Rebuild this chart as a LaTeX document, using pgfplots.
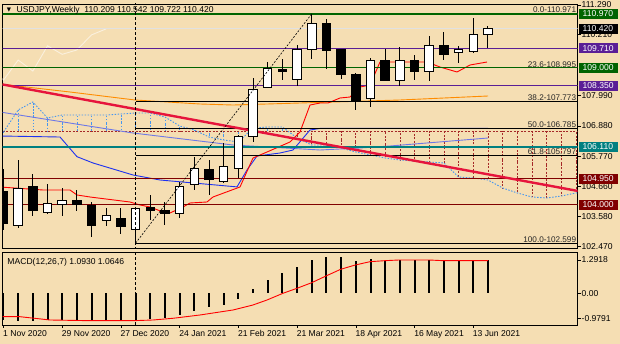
\documentclass[border=0pt]{standalone}
\usepackage{pgfplots}
\pgfplotsset{compat=1.18}
\usepackage{pgfplotstable}
\usepackage{fontspec}
\setmainfont{Liberation Sans}
\newfontfamily\symfont{DejaVu Sans}

\definecolor{bg}{RGB}{245,222,179}
\definecolor{dgreen}{RGB}{0,100,0}
\definecolor{mtpurple}{RGB}{90,30,150}
\definecolor{mtteal}{RGB}{0,128,128}
\definecolor{mtmaroon}{RGB}{128,0,0}
\definecolor{crimsonx}{RGB}{230,20,60}
\definecolor{dorange}{RGB}{255,140,0}
\definecolor{kijunc}{RGB}{30,50,240}
\definecolor{slatec}{RGB}{110,120,230}
\definecolor{senkouc}{RGB}{70,150,240}
\definecolor{hatchred}{RGB}{165,40,40}
\definecolor{pricegray}{RGB}{225,225,225}
\definecolor{chikouc}{RGB}{250,240,222}

\newcommand{\lab}{\fontsize{8.6}{10}\selectfont}
\newcommand{\fiblab}{\fontsize{8.2}{9}\selectfont}

\pgfplotstableread{
i o h l c
1 103.24 105.63 103.15 104.60
3 103.72 104.76 103.66 104.03
4 104.02 104.62 103.59 104.14
7 103.44 103.87 103.22 103.61
9 103.08 103.90 102.599 103.86
12 103.69 104.84 103.50 104.66
13 104.75 105.75 104.54 105.33
15 104.84 106.24 104.80 105.39
16 105.33 106.55 104.97 106.48
17 106.48 108.61 106.30 108.21
18 108.29 109.22 108.25 108.98
20 108.59 109.83 108.33 109.65
21 109.68 110.971 109.31 110.62
25 107.86 109.34 107.58 109.28
27 108.55 109.77 108.33 109.28
29 108.86 110.17 108.52 109.80
31 109.55 109.80 109.16 109.65
32 109.59 110.80 109.55 110.20
33 110.209 110.542 109.722 110.420
}\whitec

\pgfplotstableread{
i o h l c
0 104.47 105.30 103.08 103.33
2 104.66 105.11 103.59 103.78
5 104.14 104.54 103.77 104.02
6 103.97 104.11 102.81 103.25
8 103.49 103.87 102.93 103.22
10 103.90 104.36 103.44 103.80
11 103.80 104.11 103.26 103.69
14 105.30 105.63 104.36 104.93
19 108.95 109.31 108.55 108.86
22 110.60 110.77 108.95 109.62
23 109.68 109.70 108.58 108.74
24 108.76 108.82 107.46 107.82
26 109.26 109.67 108.50 108.55
28 109.28 109.46 108.55 108.88
30 109.80 110.29 109.28 109.49
}\blackc

\pgfplotstableread{
i a b
-1 106.691 106.691
0 106.655 106.691
1 107.460 106.691
2 107.750 106.691
3 107.166 106.691
4 107.275 106.691
5 107.275 106.691
6 107.275 106.691
7 107.275 106.691
8 107.312 106.691
9 107.348 106.691
10 107.348 106.691
11 107.202 106.691
12 106.874 106.691
13 106.728 106.691
14 106.472 106.691
15 106.363 106.691
16 106.290 106.691
17 106.801 106.691
18 106.837 106.691
19 106.837 106.691
20 106.436 106.691
21 106.180 106.691
22 106.180 106.691
23 106.071 106.691
24 105.925 106.691
25 105.815 106.691
26 105.706 106.691
27 105.633 106.691
28 105.597 106.691
29 105.560 106.691
30 105.524 106.691
31 105.013 106.691
32 104.976 106.691
33 104.903 106.691
34 104.611 106.691
35 104.429 106.691
36 104.283 106.691
37 104.246 106.691
38 104.319 106.691
39 104.429 106.691
40 104.500 106.691
}\senkou

\pgfplotstableread{
i p
-0.238 104.648
2.691 104.538
4.530 104.538
5.007 104.356
5.892 104.283
8.617 104.100
9.298 103.991
9.980 103.918
10.865 103.735
11.342 103.699
12.228 103.918
12.705 104.064
13.862 104.100
14.271 104.283
16.110 104.648
16.996 105.706
17.950 105.925
19.516 106.290
20.197 106.655
20.879 107.640
21.560 107.713
22.105 107.713
22.922 107.896
23.604 107.932
24.285 108.297
24.966 108.370
25.647 109.210
28.849 109.210
29.734 109.027
30.892 108.845
31.778 109.100
32.936 109.210
}\tenkan

\pgfplotstableread{
i p
-0.238 106.509
3.849 106.472
5.007 105.754
6.097 105.524
8.822 105.086
10.661 104.903
15.906 104.651
16.587 105.268
17.269 105.779
18.835 105.888
19.721 105.998
20.879 106.728
21.560 106.785
33.004 106.785
}\kijun

\pgfplotstableread{
i p
-0.238 107.385
8.822 106.618
15.634 106.180
21.560 105.998
24.285 106.071
26.328 106.144
33.004 106.436
}\slate

\pgfplotstableread{
i p
-0.238 108.407
4.530 108.115
8.958 107.823
13.386 107.677
15.634 107.640
20.197 107.713
27.010 107.823
33.004 107.969
}\orangema

\pgfplotstableread{
i p
-1 109.28
0 108.55
1 109.28
2 108.88
3 109.80
4 109.49
5 109.65
6 110.20
7 110.42
}\chikou

\pgfplotstableread{
i v
0 -1.03
1 -1.07
2 -1.07
3 -1.03
4 -1.05
5 -1.05
6 -1.08
7 -1.05
8 -1.08
9 -1.05
10 -0.99
11 -0.94
12 -0.83
13 -0.67
14 -0.54
15 -0.44
16 -0.22
17 0.16
18 0.52
19 0.78
20 1.03
21 1.29
22 1.40
23 1.40
24 1.26
25 1.32
26 1.26
27 1.29
28 1.29
29 1.29
30 1.26
31 1.26
32 1.26
33 1.29
}\macd

\pgfplotstableread{
i v
-0.238 -0.907
1.124 -0.907
3.168 -1.035
5.892 -1.062
8.822 -1.062
10.184 -1.035
11.546 -0.969
13.386 -0.841
15.634 -0.647
16.996 -0.453
17.950 -0.260
19.039 0.000
19.993 0.194
20.995 0.411
21.969 0.671
22.970 0.930
23.965 1.097
24.966 1.225
25.967 1.264
26.962 1.291
28.965 1.291
29.959 1.264
33.004 1.264
}\signal

\pgfplotsset{
  mtaxis/.style={scale only axis, anchor=south west, width=574.8bp,
    xmin=-0.054, xmax=39.10,
    axis line style={black, line width=0.8bp},
    tick style={black, line width=0.6bp},
    tick align=outside, major tick length=3bp},
  hl/.style={forget plot, mark=none, line width=1.5bp},
  ebar/.style={draw=none, mark=none, forget plot,
    error bars/y dir=both, error bars/y explicit, error bars/error mark=none,
    error bars/error bar style={#1}}
}

\begin{document}
\begin{tikzpicture}
\fill[bg] (0,0) rectangle (620bp,344bp);
\useasboundingbox (0,0) rectangle (620bp,344bp);

% ---------------- main price panel ----------------
\begin{axis}[mtaxis, at={(2.7bp,96bp)}, height=244bp,
  ymin=102.421, ymax=111.327,
  xtick=\empty,
  ytick={111.29,110.21,107.99,106.88,105.77,104.66,103.58,102.47},
  yticklabels={111.290,110.210,107.990,106.880,105.770,104.660,103.580,102.470},
  ytick pos=right, yticklabel pos=right,
  yticklabel style={font=\lab, anchor=west, inner sep=1bp, xshift=0bp},
  clip mode=individual]

% Ichimoku cloud hatch
\addplot[restrict x to domain=-2:19.5,
  ebar={draw=senkouc, line width=0.7bp, dash pattern=on 1.5bp off 1.5bp}]
  table[x=i, y expr=(\thisrow{a}+\thisrow{b})/2, y error expr=abs(\thisrow{a}-\thisrow{b})/2] {\senkou};
\addplot[restrict x to domain=19.5:41,
  ebar={draw=hatchred, line width=0.7bp, dash pattern=on 2bp off 1.5bp}]
  table[x=i, y expr=(\thisrow{a}+\thisrow{b})/2, y error expr=abs(\thisrow{a}-\thisrow{b})/2] {\senkou};
\addplot[hl, hatchred, line width=0.8bp, dash pattern=on 2bp off 1.5bp] table[x=i, y=b] {\senkou};
\addplot[hl, senkouc, line width=0.9bp, dash pattern=on 1.5bp off 1.5bp] table[x=i, y=a] {\senkou};

% lines
\addplot[hl, chikouc, line width=0.9bp] table[x=i, y=p] {\chikou};
\addplot[hl, slatec, line width=0.9bp] table[x=i, y=p] {\slate};
\addplot[hl, kijunc, line width=0.9bp] table[x=i, y=p] {\kijun};
\addplot[hl, dorange, line width=0.9bp] table[x=i, y=p] {\orangema};
\addplot[hl, red, line width=0.9bp] table[x=i, y=p] {\tenkan};

% Fibonacci levels
\addplot[hl, black, line width=0.8bp] coordinates {(9,110.971) (40,110.971)};
\addplot[hl, black, line width=0.8bp] coordinates {(9,108.995) (40,108.995)};
\addplot[hl, black, line width=0.8bp] coordinates {(9,107.773) (40,107.773)};
\addplot[hl, black, line width=0.8bp] coordinates {(9,106.785) (40,106.785)};
\addplot[hl, black, line width=0.8bp] coordinates {(9,105.797) (40,105.797)};
\addplot[hl, black, line width=0.8bp] coordinates {(9,102.599) (40,102.599)};

% horizontal levels
\addplot[hl, pricegray, line width=1bp] coordinates {(-1,110.42) (40,110.42)};
\addplot[hl, dgreen] coordinates {(-1,110.97) (40,110.97)};
\addplot[hl, mtpurple] coordinates {(-1,109.71) (40,109.71)};
\addplot[hl, dgreen] coordinates {(-1,109.00) (40,109.00)};
\addplot[hl, mtpurple] coordinates {(-1,108.35) (40,108.35)};
\addplot[hl, mtteal] coordinates {(-1,106.11) (40,106.11)};
\addplot[hl, mtmaroon] coordinates {(-1,104.95) (40,104.95)};
\addplot[hl, mtmaroon] coordinates {(-1,104.00) (40,104.00)};

% trend line
\addplot[hl, crimsonx, line width=2.4bp] coordinates {(-1,108.483) (40,104.416)};

% candles: wicks
\addplot[ebar={draw=black, line width=1bp}]
  table[x=i, y expr=(\thisrow{h}+\thisrow{l})/2, y error expr=(\thisrow{h}-\thisrow{l})/2] {\whitec};
\addplot[ebar={draw=black, line width=1bp}]
  table[x=i, y expr=(\thisrow{h}+\thisrow{l})/2, y error expr=(\thisrow{h}-\thisrow{l})/2] {\blackc};
% bodies
\addplot[ebar={draw=black, line width=9.5bp}]
  table[x=i, y expr=(\thisrow{o}+\thisrow{c})/2, y error expr=abs(\thisrow{c}-\thisrow{o})/2+0.018] {\whitec};
\addplot[ebar={draw=white, line width=7.5bp}]
  table[x=i, y expr=(\thisrow{o}+\thisrow{c})/2, y error expr=abs(\thisrow{c}-\thisrow{o})/2-0.018] {\whitec};
\addplot[ebar={draw=black, line width=9.5bp}]
  table[x=i, y expr=(\thisrow{o}+\thisrow{c})/2, y error expr=abs(\thisrow{c}-\thisrow{o})/2+0.018] {\blackc};

% fibo diagonal and vertical line
\addplot[hl, black, line width=0.6bp, dash pattern=on 2bp off 1.5bp] coordinates {(9,102.599) (21,110.971)};
\addplot[hl, black, line width=0.7bp, dash pattern=on 3bp off 2bp] coordinates {(9,102) (9,112)};

% fib labels
\begin{scope}[every node/.style={font=\fiblab, anchor=south east, inner sep=0.5bp, text=black!85}]
\node at (axis cs:39.05,110.971) {0.0-110.971};
\node at (axis cs:39.05,108.995) {23.6-108.995};
\node at (axis cs:39.05,107.773) {38.2-107.773};
\node at (axis cs:39.05,106.785) {50.0-106.785};
\node at (axis cs:39.05,105.797) {61.8-105.797};
\node at (axis cs:39.05,102.599) {100.0-102.599};
\end{scope}
\end{axis}

% overlay with coloured price boxes
\begin{axis}[mtaxis, at={(2.7bp,96bp)}, height=244bp,
  ymin=102.421, ymax=111.327, hide axis, clip=false]
\begin{scope}[every node/.style={font=\lab, anchor=west, xshift=1.5bp, text=white,
   text width=32bp, inner xsep=3.5bp, inner ysep=0pt, minimum height=10bp, align=left}]
\node[fill=dgreen] at (axis cs:39.10,110.97) {110.970};
\node[fill=black] at (axis cs:39.10,110.42) {110.420};
\node[fill=mtpurple] at (axis cs:39.10,109.71) {109.710};
\node[fill=dgreen] at (axis cs:39.10,109.00) {109.000};
\node[fill=mtpurple] at (axis cs:39.10,108.35) {108.350};
\node[fill=mtteal] at (axis cs:39.10,106.11) {106.110};
\node[fill=mtmaroon] at (axis cs:39.10,104.95) {104.950};
\node[fill=mtmaroon] at (axis cs:39.10,104.00) {104.000};
\end{scope}
\end{axis}

% ---------------- MACD panel ----------------
\begin{axis}[mtaxis, at={(2.7bp,19bp)}, height=72.5bp,
  ymin=-1.229, ymax=1.581,
  xtick={0,4,8,12,16,20,24,28,32},
  xticklabels={1 Nov 2020,29 Nov 2020,27 Dec 2020,24 Jan 2021,21 Feb 2021,21 Mar 2021,18 Apr 2021,16 May 2021,13 Jun 2021},
  xtick pos=bottom, xticklabel pos=bottom,
  xticklabel style={font=\lab, anchor=north west, xshift=-1.5bp, yshift=-1.5bp, inner sep=1bp},
  ytick={1.2918,0,-0.9791},
  yticklabels={1.2918,0.00,-0.9791},
  ytick pos=right, yticklabel pos=right,
  yticklabel style={font=\lab, anchor=west, inner sep=1bp},
  clip mode=individual]
\addplot[ebar={draw=black, line width=2bp}]
  table[x=i, y expr=\thisrow{v}/2, y error expr=abs(\thisrow{v})/2] {\macd};
\addplot[hl, red, line width=0.9bp] table[x=i, y=v] {\signal};
\addplot[hl, black, line width=0.7bp, dash pattern=on 3bp off 2bp] coordinates {(9,-2) (9,2)};
\node[font=\lab, anchor=west, inner sep=0pt] at (rel axis cs:0.008,0.869) {MACD(12,26,7) 1.0930 1.0646};
\end{axis}

% header
\node[font={\symfont\fontsize{5.5}{6}\selectfont}, inner sep=0pt] at (9bp,334bp) {▼};
\node[font=\lab, anchor=west, inner sep=0pt] at (16.5bp,334bp) {USDJPY,Weekly\ \ 110.209 110.542 109.722 110.420};
\end{tikzpicture}
\end{document}
